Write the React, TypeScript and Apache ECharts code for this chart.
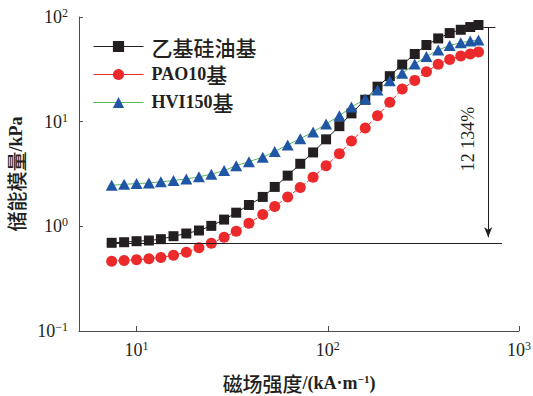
import React, { useEffect, useRef } from "react";
import * as echarts from "echarts";

// Magnetic field strength (kA/m)
const FIELD = [7.41, 8.61, 10.0, 11.6, 13.4, 15.6, 18.2, 21.2, 24.6, 28.7, 33.2, 38.7, 45.7, 52.8, 61.7, 71.8, 83.8, 98.0, 115, 133, 157, 182, 211, 245, 285, 328, 378, 434, 496, 556, 614];
const SILICONE = [0.696, 0.705, 0.721, 0.732, 0.754, 0.805, 0.854, 0.912, 1.01, 1.16, 1.35, 1.6, 1.91, 2.38, 3.05, 3.96, 5.08, 6.78, 9.06, 12.0, 16.2, 21.6, 27.2, 35.1, 44.3, 54.0, 62.4, 70.2, 75.5, 80.2, 83.9];
const PAO10 = [0.465, 0.472, 0.479, 0.49, 0.504, 0.53, 0.566, 0.624, 0.69, 0.787, 0.898, 1.07, 1.3, 1.55, 1.91, 2.35, 2.95, 3.8, 4.95, 6.55, 8.71, 11.4, 15.3, 20.5, 24.8, 30.0, 35.4, 39.3, 42.4, 44.3, 46.3];
const HVI150 = [2.47, 2.52, 2.56, 2.6, 2.66, 2.74, 2.84, 2.97, 3.15, 3.41, 3.8, 4.15, 4.58, 5.19, 6.0, 6.88, 7.97, 9.51, 11.4, 13.8, 16.5, 20.1, 24.6, 29.0, 35.6, 41.9, 48.4, 53.5, 56.8, 58.9, 60.4];
const SERIES_NAMES = ["乙基硅油基", "PAO10基", "HVI150基"];
const ANNOT_TEXT = "12 134%";
// annotation reference values (data space)
const BASE_LINE_X = [6.98, 815];
const TOP_TICK_X = [652, 753];
const ARROW_X = 690;
const ARROW_Y = [79.4, 0.787];

const FONT = "'Liberation Serif', 'Noto Sans CJK SC', serif";
const CJK = "'Noto Sans CJK SC', 'Liberation Serif', serif";
const INK = "#231f20";
const AXIS = "#4d4d4f";

function powLabel(v: number) {
  const lg = Math.log10(v);
  const e = Math.round(lg);
  if (Math.abs(lg - e) > 1e-6) return "";
  return `{b|10}{s|${e < 0 ? "−" + Math.abs(e) : e}}`;
}

// wrap CJK runs in {c|...} so they can use a CJK style
function wrapCJK(s: string) {
  return s.replace(/([\u3400-\u9fff]+)/g, "{c|$1}");
}

const labelRich = {
  b: { fontSize: 18, fontFamily: FONT, color: INK, lineHeight: 20 },
  s: { fontSize: 12, fontFamily: FONT, color: INK, verticalAlign: "top", lineHeight: 12 },
};

export default function App() {
  const ref = useRef<HTMLDivElement>(null);
  useEffect(() => {
    if (!ref.current) return;
    const chart = echarts.init(ref.current, null, { renderer: "svg" });
    const mk = (ys: number[]) => FIELD.map((x, i) => [x, ys[i]]);
    chart.setOption({
      animation: false,
      grid: { left: 79, right: 14, top: 17, bottom: 65, outerBoundsMode: "none" },
      legend: {
        orient: "vertical",
        left: 88,
        top: 31,
        itemWidth: 50,
        itemHeight: 14,
        itemGap: 7,
        data: SERIES_NAMES,
        formatter: (n: string) => wrapCJK(n),
        lineStyle: { type: "solid", width: 1 },
        textStyle: {
          fontSize: 18,
          fontFamily: FONT,
          color: INK,
          fontWeight: "bold",
          lineHeight: 19,
          padding: [0, 0, 0, 3],
          rich: {
            c: { fontSize: 21, fontFamily: CJK, color: INK, fontWeight: 500, lineHeight: 19 },
          },
        },
      },
      xAxis: {
        type: "log",
        logBase: 10,
        min: 5,
        max: 1000,
        name: wrapCJK("磁场强度") + "/(kA·m{s|−1})",
        nameLocation: "middle",
        nameGap: 42,
        nameTextStyle: {
          fontSize: 18,
          fontFamily: FONT,
          color: INK,
          fontWeight: "bold",
          lineHeight: 20,
          rich: {
            c: { fontSize: 20, fontFamily: CJK, color: INK, fontWeight: 500, lineHeight: 20 },
            s: { fontSize: 11, fontFamily: FONT, color: INK, fontWeight: "bold", verticalAlign: "top", lineHeight: 12 },
          },
        },
        axisLine: { show: true, lineStyle: { color: AXIS, width: 1 } },
        axisTick: { show: true, inside: true, length: 5, lineStyle: { color: AXIS } },
        minorTick: { show: false },
        splitLine: { show: false },
        axisLabel: { margin: 9, formatter: powLabel, rich: labelRich, showMinLabel: false },
      },
      yAxis: {
        type: "log",
        logBase: 10,
        min: 0.1,
        max: 100,
        name: wrapCJK("储能模量") + "/kPa",
        nameLocation: "middle",
        nameGap: 50,
        nameTextStyle: {
          fontSize: 18,
          fontFamily: FONT,
          color: INK,
          fontWeight: "bold",
          lineHeight: 20,
          rich: {
            c: { fontSize: 20, fontFamily: CJK, color: INK, fontWeight: 500, lineHeight: 20 },
          },
        },
        axisLine: { show: true, lineStyle: { color: AXIS, width: 1 } },
        axisTick: { show: true, inside: true, length: 4, lineStyle: { color: AXIS } },
        minorTick: { show: false },
        splitLine: { show: false },
        axisLabel: { margin: 11, formatter: powLabel, rich: labelRich },
      },
      series: [
        {
          name: SERIES_NAMES[0],
          type: "line",
          data: mk(SILICONE),
          symbol: "rect",
          symbolSize: 10,
          itemStyle: { color: INK },
          lineStyle: { color: INK, width: 1 },
          markLine: {
            silent: true,
            animation: false,
            symbol: ["none", "none"],
            label: { show: false },
            lineStyle: { color: INK, width: 1, type: "solid" },
            data: [
              [{ coord: [BASE_LINE_X[0], SILICONE[0]] }, { coord: [BASE_LINE_X[1], SILICONE[0]] }],
              [{ coord: [TOP_TICK_X[0], ARROW_Y[0]] }, { coord: [TOP_TICK_X[1], ARROW_Y[0]] }],
              [
                { coord: [ARROW_X, ARROW_Y[0]], symbol: "none" },
                { coord: [ARROW_X, ARROW_Y[1]], symbol: "arrow", symbolSize: [6, 10] },
              ],
            ],
          },
        },
        {
          name: SERIES_NAMES[1],
          type: "line",
          data: mk(PAO10),
          symbol: "circle",
          symbolSize: 11,
          itemStyle: { color: "#ec2a2b" },
          lineStyle: { color: "#ec2a2b", width: 1, type: [4, 2] },
        },
        {
          name: SERIES_NAMES[2],
          type: "line",
          data: mk(HVI150),
          symbol: "triangle",
          symbolSize: [12, 11],
          itemStyle: { color: "#1f56a6" },
          lineStyle: { color: "#5cb85c", width: 1 },
        },
      ],
      graphic: [
        {
          type: "text",
          x: 468,
          y: 139,
          rotation: Math.PI / 2,
          style: { text: ANNOT_TEXT, fontSize: 18, fontFamily: FONT, fill: INK, align: "center", verticalAlign: "middle" },
        },
      ],
    });
    return () => chart.dispose();
  }, []);
  return <div ref={ref} style={{ position: "absolute", left: 0, top: 0, width: 533, height: 396 }} />;
}
